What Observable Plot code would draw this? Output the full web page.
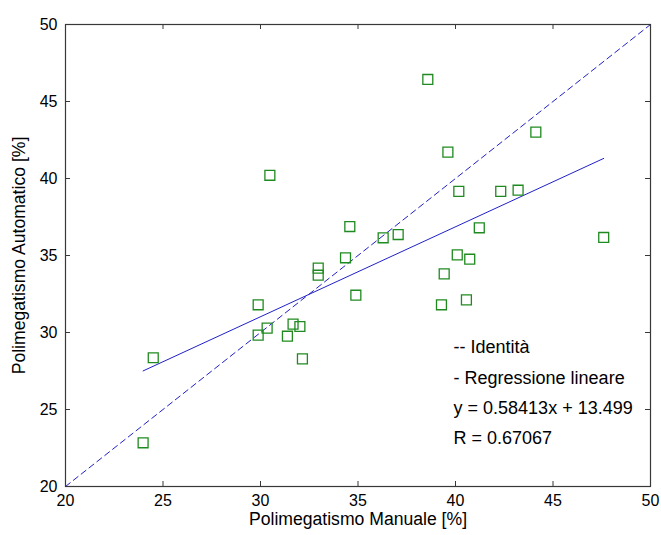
<!DOCTYPE html>
<html><head><meta charset="utf-8">
<script src="https://cdn.jsdelivr.net/npm/d3@7"></script>
<script src="https://cdn.jsdelivr.net/npm/@observablehq/plot@0.6"></script>
<style>body{margin:0;background:#fff}</style>
</head><body><div id="chart"></div>
<script>
const manual = [23.98,24.5,29.88,29.88,30.34,31.38,31.67,32.02,32.15,32.96,32.96,34.36,34.89,40.09,40.73,39.42,39.28,40.56,47.6,38.58,44.12,39.61,40.17,42.32,43.21,34.58,36.29,37.06,41.22,30.48];
const automatic = [22.84,28.36,31.8,29.83,30.28,29.76,30.54,30.39,28.29,34.18,33.72,34.85,32.42,35.04,34.76,33.81,31.8,32.12,36.17,46.43,43.01,41.71,39.16,39.16,39.24,36.88,36.15,36.36,36.8,40.21];
const xTicks = [20,25,30,35,40,45,50];
const yTicks = [20,25,30,35,40,45,50];
const identityX = [20,50];
const regSlope = 0.58413, regIntercept = 13.499;
const annotations = ["-- Identità","- Regressione lineare","y = 0.58413x + 13.499","R = 0.67067"];
const annotationX = [39.9,39.9,39.9,39.9];
const annotationY = [29.03,27.05,25.06,23.15];
const xLabel = "Polimegatismo Manuale [%]";
const yLabel = "Polimegatismo Automatico [%]";

const points = manual.map((m,i)=>({x:m,y:automatic[i]}));
const xmin = d3.min(manual), xmax = d3.max(manual);
const regLine = [xmin,xmax].map(x=>({x, y: regSlope*x+regIntercept}));
const idLine = identityX.map(v=>({x:v,y:v}));
const notes = annotations.map((t,i)=>({t,x:annotationX[i],y:annotationY[i]}));
const innerTicksX = xTicks.slice(1,-1), innerTicksY = yTicks.slice(1,-1);

const W=661,H=535,mL=65,mR=11,mT=24,mB=49;
const iw=W-mL-mR, ih=H-mT-mB, tl=5;
const axisColor="#383838";
const blue="#2020c8", green="#1f8a1f";
const font="'Liberation Sans', Arial, sans-serif";

const chart = Plot.plot({
  width:W,height:H,marginLeft:mL,marginRight:mR,marginTop:mT,marginBottom:mB,
  style:{fontFamily:font,fontSize:"16px",color:"#000",background:"#fff"},
  x:{domain:[20,50]}, y:{domain:[20,50]},
  marks:[
    Plot.line(idLine,{x:"x",y:"y",stroke:blue,strokeWidth:1,strokeDasharray:"6,4"}),
    Plot.line(regLine,{x:"x",y:"y",stroke:blue,strokeWidth:1}),
    Plot.dot(points,{x:"x",y:"y",symbol:"square",r:5.6,stroke:green,strokeWidth:1.3,fill:"none"}),
    Plot.tickX(innerTicksX,{x:d=>d,insetTop:ih-tl,stroke:axisColor}),
    Plot.tickX(innerTicksX,{x:d=>d,insetBottom:ih-tl,stroke:axisColor}),
    Plot.tickY(innerTicksY,{y:d=>d,insetRight:iw-tl,stroke:axisColor}),
    Plot.tickY(innerTicksY,{y:d=>d,insetLeft:iw-tl,stroke:axisColor}),
    Plot.frame({stroke:axisColor,strokeWidth:1.2}),
    Plot.axisX({ticks:xTicks,tickSize:0,tickPadding:8,label:null,tickFormat:d=>String(d),fontSize:16}),
    Plot.axisY({ticks:yTicks,tickSize:0,tickPadding:8,label:null,tickFormat:d=>String(d),fontSize:16}),
    Plot.text(notes,{x:"x",y:"y",text:"t",textAnchor:"start",fill:"#000",fontSize:18}),
    Plot.text([xLabel],{frameAnchor:"bottom",dy:38,textAnchor:"middle",fill:"#000",fontSize:17.6}),
    Plot.text([yLabel],{frameAnchor:"left",dx:-46,rotate:-90,textAnchor:"middle",fill:"#000",fontSize:17.6})
  ]
});
document.getElementById("chart").appendChild(chart);
</script>
</body></html>
